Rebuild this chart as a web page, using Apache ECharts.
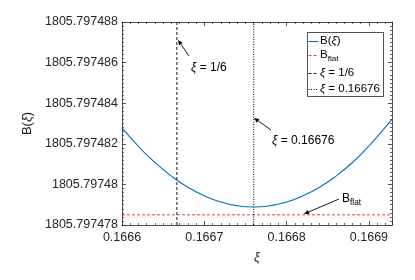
<!DOCTYPE html>
<html><head><meta charset="utf-8">
<script src="https://cdn.jsdelivr.net/npm/echarts@6/dist/echarts.min.js"></script>
<style>html,body{margin:0;padding:0;background:#fff}#c{width:415px;height:280px}</style>
</head><body><div id="c"></div>
<script>
// ---- data ----
const xiValues = [0.16660, 0.16662, 0.16664, 0.16666, 0.16668, 0.16670, 0.16672, 0.16674, 0.16676,
                  0.16678, 0.16680, 0.16682, 0.16684, 0.16686, 0.16688, 0.16690, 0.16692, 0.166928];
const bValues = [1805.79748278, 1805.79748187, 1805.79748108, 1805.79748041, 1805.79747986, 1805.79747944,
                 1805.79747913, 1805.79747895, 1805.79747889, 1805.79747895, 1805.79747913, 1805.79747944,
                 1805.79747986, 1805.79748041, 1805.79748108, 1805.79748190, 1805.79748282, 1805.79748320];
const bFlat = 1805.7974785;
const xiOneSixth = 1 / 6;
const xiMinimum = 0.16676;
const xRange = [0.1666, 0.166928];
const yRange = [1805.797478, 1805.797488];
const xTickStep = 0.0001;
const yTickStep = 0.000002;
const legendNames = ['B(ξ)', 'B_flat', 'ξ = 1/6', 'ξ = 0.16676'];

const FONT = 'Liberation Sans, Arial, Helvetica, sans-serif';
const INK = '#262626';
const BLUE = '#0072BD', RED = '#ff0000';
const DASH = [3, 2], DOT = [1, 1.5];
const chart = echarts.init(document.getElementById('c'), null, {renderer: 'canvas'});

const axisCommon = {
  type: 'value',
  axisLine: {show: true, onZero: false, lineStyle: {color: INK, width: 0.8}},
  axisTick: {show: true, inside: true, length: 4, lineStyle: {color: INK, width: 0.8}},
  minorTick: {show: true, splitNumber: 10, length: 2, lineStyle: {color: INK, width: 0.7}},
  splitLine: {show: false},
  minorSplitLine: {show: false}
};

chart.setOption({
  animation: false,
  backgroundColor: '#fff',
  grid: {left: 122, top: 22, width: 270, height: 203, containLabel: false},
  xAxis: [
    Object.assign({}, axisCommon, {
      position: 'bottom', min: xRange[0], max: xRange[1], interval: xTickStep,
      axisLabel: {color: INK, fontSize: 12.5, fontFamily: FONT, margin: 6, showMaxLabel: false,
                  formatter: v => Number(v.toFixed(5)).toString()},
      name: 'ξ', nameLocation: 'middle', nameGap: 26,
      nameTextStyle: {fontStyle: 'italic', fontSize: 13, fontFamily: FONT, color: INK}
    }),
    Object.assign({}, axisCommon, {
      position: 'top', min: xRange[0], max: xRange[1], interval: xTickStep,
      axisLabel: {show: false}
    })
  ],
  yAxis: [
    Object.assign({}, axisCommon, {
      position: 'left', min: yRange[0], max: yRange[1], interval: yTickStep,
      axisLabel: {color: INK, fontSize: 12.5, fontFamily: FONT, margin: 4,
                  formatter: v => Number(v.toFixed(6)).toString()},
      name: 'B({i|ξ})', nameLocation: 'middle', nameGap: 82,
      nameTextStyle: {fontSize: 13, fontFamily: FONT, color: INK,
                      rich: {i: {fontStyle: 'italic', fontSize: 13, fontFamily: FONT, color: INK}}}
    }),
    Object.assign({}, axisCommon, {
      position: 'right', min: yRange[0], max: yRange[1], interval: yTickStep,
      axisLabel: {show: false}
    })
  ],
  series: [
    {
      name: legendNames[0], type: 'line', xAxisIndex: 0, yAxisIndex: 0,
      data: xiValues.map((x, i) => [x, bValues[i]]),
      smooth: true, symbol: 'none', z: 5,
      lineStyle: {color: BLUE, width: 1.1}, itemStyle: {color: BLUE}
    },
    {
      name: legendNames[1], type: 'line', xAxisIndex: 0, yAxisIndex: 0,
      data: [[xRange[0], bFlat], [xRange[1], bFlat]],
      symbol: 'none', z: 3,
      lineStyle: {color: RED, width: 0.8, type: DASH}, itemStyle: {color: RED}
    },
    {
      name: legendNames[2], type: 'line', xAxisIndex: 0, yAxisIndex: 0,
      data: [[xiOneSixth, yRange[0]], [xiOneSixth, yRange[1]]],
      symbol: 'none', z: 3,
      lineStyle: {color: '#000', width: 0.9, type: DASH}, itemStyle: {color: '#000'}
    },
    {
      name: legendNames[3], type: 'line', xAxisIndex: 0, yAxisIndex: 0,
      data: [[xiMinimum, yRange[0]], [xiMinimum, yRange[1]]],
      symbol: 'none', z: 3,
      lineStyle: {color: '#000', width: 1, type: DOT}, itemStyle: {color: '#000'}
    }
  ]
});

// ---- annotations (text arrows) and MATLAB-style legend box ----
function arrow(tail, tip) {
  const dx = tip[0] - tail[0], dy = tip[1] - tail[1];
  const len = Math.hypot(dx, dy), ux = dx / len, uy = dy / len;
  const L = 5, W = 2.2;
  const bx = tip[0] - ux * L, by = tip[1] - uy * L;
  return [
    {type: 'line', silent: true, z: 20,
     shape: {x1: tail[0], y1: tail[1], x2: bx, y2: by},
     style: {stroke: '#000', lineWidth: 0.9}},
    {type: 'polygon', silent: true, z: 20,
     shape: {points: [[tip[0], tip[1]], [bx - uy * W, by + ux * W], [bx + uy * W, by - ux * W]]},
     style: {fill: '#000'}}
  ];
}
function richFor(size, subSize, subPad) {
  return {
    i: {fontStyle: 'italic', fontSize: size, fontFamily: FONT, fill: '#000'},
    sub: {fontSize: subSize, fontFamily: FONT, fill: '#000', padding: [subPad, 0, 0, 0]}
  };
}
function label(x, y, text, size) {
  return {type: 'text', silent: true, z: 20, x: x, y: y,
          style: {text: text, fill: '#000', fontSize: size, fontFamily: FONT,
                  verticalAlign: 'middle', align: 'left', rich: richFor(size, size * 0.7, 7)}};
}
const legendLabels = ['B({i|ξ})', 'B{sub|flat}', '{i|ξ} = 1/6', '{i|ξ} = 0.16676'];
const legendStyles = [
  {stroke: BLUE, lineDash: null, lineWidth: 1.1},
  {stroke: RED, lineDash: DASH, lineWidth: 0.8},
  {stroke: '#000', lineDash: DASH, lineWidth: 0.9},
  {stroke: '#000', lineDash: DOT, lineWidth: 1}
];
const legendRowsY = [41, 55, 73, 89];
const legendBox = {x: 307.5, y: 32.5, w: 76, h: 64};
const legendGraphics = [{
  type: 'rect', silent: true, z: 18,
  shape: {x: legendBox.x, y: legendBox.y, width: legendBox.w, height: legendBox.h},
  style: {fill: '#fff', stroke: INK, lineWidth: 0.8}
}];
legendRowsY.forEach((y, k) => {
  legendGraphics.push({
    type: 'line', silent: true, z: 19,
    shape: {x1: legendBox.x + 1, y1: y + 0.5, x2: legendBox.x + 11, y2: y + 0.5},
    style: Object.assign({}, legendStyles[k])
  });
  legendGraphics.push(label(legendBox.x + 12.5, y, legendLabels[k], 11.5));
});
const graphics = [].concat(
  arrow([189, 56], [178, 40]), [label(191, 68, '{i|ξ} = 1/6', 12)],
  arrow([271, 130], [254, 118]), [label(272, 141, '{i|ξ} = 0.16676', 12)],
  arrow([339, 199], [304, 214]), [label(342, 199, 'B{sub|flat}', 12)],
  legendGraphics
);
chart.setOption({graphic: graphics});
</script>
</body></html>
